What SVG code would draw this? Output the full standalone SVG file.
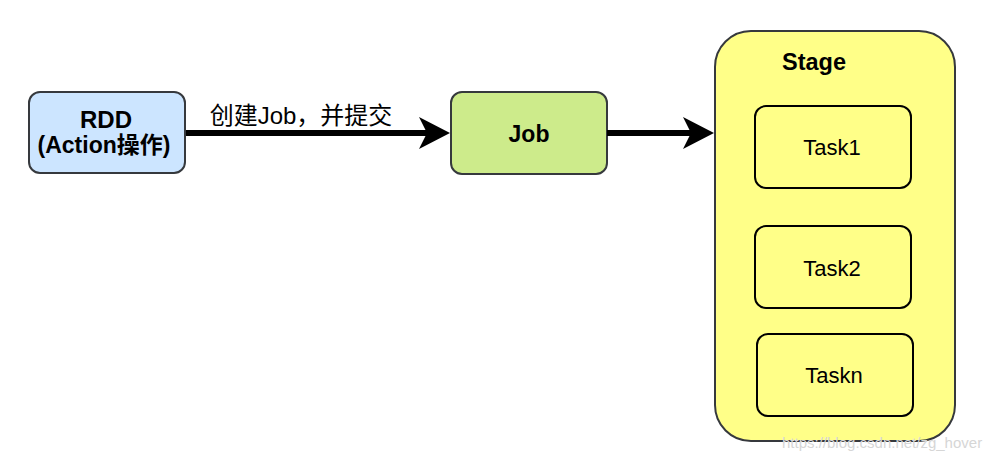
<svg xmlns="http://www.w3.org/2000/svg" width="1002" height="462" viewBox="0 0 1002 462">
  <style>
    .box { stroke: #36393d; stroke-width: 2; }
    .task { fill: none; stroke: #000; stroke-width: 2; }
    .t { font-family: "Liberation Sans", Arial, "Noto Sans CJK SC", sans-serif; fill: #000; text-anchor: middle; }
    .b { font-weight: bold; }
    .conn { stroke: #000; stroke-width: 6; fill: none; }
  </style>
  <defs>
    <marker id="arr" markerUnits="userSpaceOnUse" viewBox="0 0 31 32" markerWidth="31" markerHeight="32" refX="8" refY="16" orient="auto">
      <path d="M0,0 L31,16 L0,32 L8,16 Z" fill="#000"/>
    </marker>
  </defs>
  <rect width="1002" height="462" fill="#fff"/>

  <g id="stage">
    <rect class="box" x="715" y="31" width="240" height="410" rx="36" fill="#ffff88"/>
    <text class="t b" x="814" y="70" font-size="23.5">Stage</text>
  </g>

  <g id="rdd">
    <rect class="box" x="29" y="92" width="156" height="81" rx="11" fill="#cce5ff"/>
    <text class="t b" x="106" y="128" font-size="24">RDD</text>
    <text class="t b" x="104" y="153" font-size="23">(Action操作)</text>
  </g>

  <g id="job">
    <rect class="box" x="451" y="92" width="156" height="82" rx="11" fill="#cdeb8b"/>
    <text class="t b" x="529" y="142" font-size="23">Job</text>
  </g>

  <g id="task1">
    <rect class="task" x="755" y="106" width="156" height="82" rx="11"/>
    <text class="t" x="832" y="155" font-size="22">Task1</text>
  </g>
  <g id="task2">
    <rect class="task" x="755" y="226" width="156" height="82" rx="11"/>
    <text class="t" x="832" y="276" font-size="22">Task2</text>
  </g>
  <g id="taskn">
    <rect class="task" x="757" y="334" width="156" height="82" rx="11"/>
    <text class="t" x="834" y="383" font-size="22">Taskn</text>
  </g>

  <g id="connectors">
    <path class="conn" d="M186,133 L427,133" marker-end="url(#arr)"/>
    <path class="conn" d="M607,133 L691,133" marker-end="url(#arr)"/>
    <text class="t" x="301" y="124" font-size="24">创建Job，并提交</text>
  </g>

  <text x="782" y="448" font-family="'Liberation Sans', Arial, sans-serif" font-size="15" fill="#d6d6d6">https://blog.csdn.net/zg_hover</text>
</svg>
